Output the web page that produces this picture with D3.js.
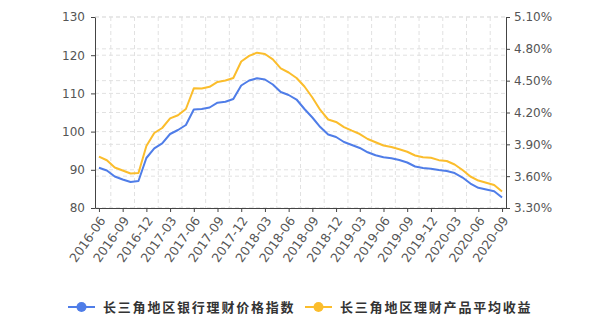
<!DOCTYPE html>
<html>
<head>
<meta charset="utf-8">
<script src="https://cdn.jsdelivr.net/npm/d3@7"></script>
<style>
  body { margin: 0; background: #fff; }
  #chart text { font-family: "DejaVu Sans", Verdana, sans-serif; }
</style>
</head>
<body>
<div id="chart"></div>
<script>
const months = [
  "2016-06","2016-07","2016-08","2016-09","2016-10","2016-11","2016-12",
  "2017-01","2017-02","2017-03","2017-04","2017-05","2017-06","2017-07","2017-08","2017-09","2017-10","2017-11","2017-12",
  "2018-01","2018-02","2018-03","2018-04","2018-05","2018-06","2018-07","2018-08","2018-09","2018-10","2018-11","2018-12",
  "2019-01","2019-02","2019-03","2019-04","2019-05","2019-06","2019-07","2019-08","2019-09","2019-10","2019-11","2019-12",
  "2020-01","2020-02","2020-03","2020-04","2020-05","2020-06","2020-07","2020-08","2020-09"
];
const tickMonths = [
  "2016-06","2016-09","2016-12","2017-03","2017-06","2017-09","2017-12","2018-03","2018-06",
  "2018-09","2018-12","2019-03","2019-06","2019-09","2019-12","2020-03","2020-06","2020-09"
];
// 长三角地区银行理财价格指数 (left axis)
const priceIndex = [
  90.55, 89.82, 88.25, 87.46, 86.81, 87.07, 93.09,
  95.63, 96.94, 99.37, 100.42, 101.73, 105.79, 105.92, 106.31, 107.57, 107.83, 108.53, 112.07,
  113.38, 113.95, 113.64, 112.33, 110.37, 109.58, 108.40, 105.92, 103.69, 101.20, 99.24, 98.59,
  97.28, 96.49, 95.71, 94.58, 93.80, 93.27, 93.04, 92.57, 91.91, 90.86, 90.47, 90.29,
  89.95, 89.69, 89.16, 87.98, 86.41, 85.29, 84.84, 84.40, 82.75
];
// 长三角地区理财产品平均收益 (right axis, %)
const avgYield = [
  3.784, 3.750, 3.682, 3.653, 3.625, 3.630, 3.884,
  4.007, 4.054, 4.145, 4.174, 4.233, 4.428, 4.426, 4.442, 4.488, 4.502, 4.525, 4.681,
  4.733, 4.764, 4.751, 4.700, 4.615, 4.577, 4.525, 4.445, 4.341, 4.224, 4.134, 4.111,
  4.063, 4.029, 3.997, 3.950, 3.920, 3.889, 3.875, 3.854, 3.830, 3.795, 3.778, 3.773,
  3.751, 3.743, 3.710, 3.658, 3.597, 3.559, 3.538, 3.517, 3.456
];
const leftTicks = [80, 90, 100, 110, 120, 130];
const rightTicks = [3.3, 3.6, 3.9, 4.2, 4.5, 4.8, 5.1];
const seriesNames = ["长三角地区银行理财价格指数", "长三角地区理财产品平均收益"];

const colors = ["#4f7de8", "#fbbd2c"];
const margin = {top: 17, right: 91, bottom: 113, left: 95};
const W = 597, H = 321;
const width = W - margin.left - margin.right;
const height = H - margin.top - margin.bottom;

const svg = d3.select("#chart").append("svg")
  .attr("width", W)
  .attr("height", H);
const g = svg.append("g")
  .attr("transform", "translate(" + margin.left + "," + margin.top + ")");

const x = d3.scalePoint().domain(months).range([0, width]).padding(0.5);
const yL = d3.scaleLinear().domain([80, 130]).range([height, 0]);
const yR = d3.scaleLinear().domain([3.3, 5.1]).range([height, 0]);

// grid
const grid = g.append("g")
  .attr("stroke", "#e1e1e1")
  .attr("stroke-dasharray", "4,3")
  .attr("fill", "none");
leftTicks.forEach(t => {
  grid.append("line").attr("x1", 0).attr("x2", width).attr("y1", yL(t)).attr("y2", yL(t));
});
rightTicks.forEach(t => {
  grid.append("line").attr("x1", 0).attr("x2", width).attr("y1", yR(t)).attr("y2", yR(t));
});
tickMonths.slice(0, -1).forEach(m => {
  const gx = x(m) + 1.5 * x.step();
  grid.append("line").attr("x1", gx).attr("x2", gx).attr("y1", 0).attr("y2", height);
});

// axes
const axisColor = "#444";
const styleAxis = sel => {
  sel.selectAll(".domain").attr("stroke", axisColor);
  sel.selectAll(".tick line").attr("stroke", axisColor);
  sel.selectAll(".tick text").attr("fill", "#555").style("font-size", "12px");
};

g.append("g")
  .call(d3.axisLeft(yL).tickValues(leftTicks).tickSize(4).tickPadding(6).tickSizeOuter(0))
  .call(styleAxis);

g.append("g")
  .attr("transform", "translate(" + width + ",0)")
  .call(d3.axisRight(yR).tickValues(rightTicks).tickSize(4).tickPadding(4).tickSizeOuter(0)
    .tickFormat(d => d.toFixed(2) + "%"))
  .call(styleAxis);

const xAxis = g.append("g")
  .attr("transform", "translate(0," + height + ")")
  .call(d3.axisBottom(x).tickValues(tickMonths).tickSize(4).tickSizeOuter(0))
  .call(styleAxis);
xAxis.selectAll(".tick text")
  .attr("text-anchor", "end")
  .attr("y", 0)
  .attr("dy", "0.35em")
  .style("font-size", "12.5px")
  .attr("transform", "translate(3,10) rotate(-55)");

// lines
const lineL = d3.line().x((d, i) => x(months[i])).y(d => yL(d));
const lineR = d3.line().x((d, i) => x(months[i])).y(d => yR(d));

g.append("path")
  .datum(priceIndex)
  .attr("fill", "none")
  .attr("stroke", colors[0])
  .attr("stroke-width", 2)
  .attr("stroke-linejoin", "round")
  .attr("d", lineL);

g.append("path")
  .datum(avgYield)
  .attr("fill", "none")
  .attr("stroke", colors[1])
  .attr("stroke-width", 2)
  .attr("stroke-linejoin", "round")
  .attr("d", lineR);

// legend
const legendX = [68, 305];
const legend = svg.append("g").attr("transform", "translate(0,307)");
seriesNames.forEach((name, i) => {
  const lg = legend.append("g").attr("transform", "translate(" + legendX[i] + ",0)");
  lg.append("line").attr("x1", 0).attr("x2", 27).attr("y1", 0).attr("y2", 0)
    .attr("stroke", colors[i]).attr("stroke-width", 2);
  lg.append("circle").attr("cx", 13.5).attr("cy", 0).attr("r", 5).attr("fill", colors[i]);
  lg.append("text")
    .attr("x", 35)
    .attr("dy", "0.35em")
    .attr("fill", "#333")
    .style("font-family", "'Noto Sans CJK SC', sans-serif")
    .style("font-size", "13px")
    .style("font-weight", "bold")
    .style("letter-spacing", "1.8px")
    .text(name);
});
</script>
</body>
</html>
